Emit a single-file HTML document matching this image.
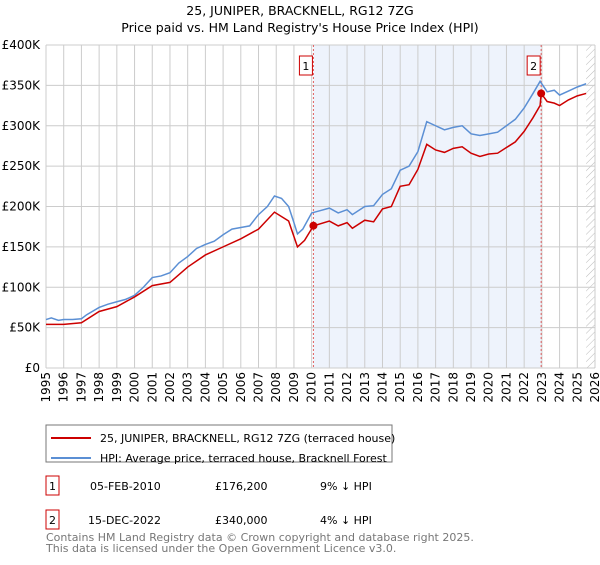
<!DOCTYPE html>
<html><head><meta charset="utf-8"><style>
body{margin:0;background:#fff;font-family:"Liberation Sans","DejaVu Sans",sans-serif;}
svg text{font-family:"DejaVu Sans","Liberation Sans",sans-serif;}
</style></head><body>
<svg id="c" width="600" height="560" xmlns="http://www.w3.org/2000/svg">
<text x="300" y="15" text-anchor="middle" font-size="12.5">25, JUNIPER, BRACKNELL, RG12 7ZG</text>
<text x="300" y="32" text-anchor="middle" font-size="12.5">Price paid vs. HM Land Registry's House Price Index (HPI)</text>
<defs><pattern id="hatch" width="5" height="5" patternUnits="userSpaceOnUse" patternTransform="rotate(45)"><line x1="0" y1="0" x2="0" y2="5" stroke="#bbb" stroke-width="1"/></pattern></defs>
<g id="grid"></g><g id="marks"></g><g id="axes"></g>
<rect x="46" y="425" width="346" height="37" fill="#fff" stroke="#777"/>
<line x1="51" y1="438" x2="91" y2="438" stroke="#cc0000" stroke-width="2"/>
<text x="100" y="442" font-size="11">25, JUNIPER, BRACKNELL, RG12 7ZG (terraced house)</text>
<line x1="51" y1="458" x2="91" y2="458" stroke="#5b8fd4" stroke-width="2"/>
<text x="100" y="462" font-size="11">HPI: Average price, terraced house, Bracknell Forest</text>
<g font-size="11">
<rect x="46" y="476" width="13" height="19" fill="none" stroke="#cc0000"/><text x="52.5" y="490" text-anchor="middle">1</text>
<text x="90" y="490">05-FEB-2010</text><text x="215" y="490">£176,200</text><text x="320" y="490">9% ↓ HPI</text>
<rect x="46" y="510" width="13" height="19" fill="none" stroke="#cc0000"/><text x="52.5" y="524" text-anchor="middle">2</text>
<text x="88" y="524">15-DEC-2022</text><text x="215" y="524">£340,000</text><text x="320" y="524">4% ↓ HPI</text>
</g>
<text x="46" y="541" font-size="11" fill="#777">Contains HM Land Registry data © Crown copyright and database right 2025.</text>
<text x="46" y="552" font-size="11" fill="#777">This data is licensed under the Open Government Licence v3.0.</text>
</svg>
<script>
const hpiYears=[1995,1995.3,1995.7,1996,1996.5,1997,1997.3,1998,1998.5,1999,1999.5,2000,2000.5,2001,2001.5,2002,2002.5,2003,2003.5,2004,2004.5,2005,2005.5,2006,2006.5,2007,2007.5,2007.9,2008.3,2008.7,2009,2009.2,2009.5,2010,2010.5,2011,2011.5,2012,2012.3,2013,2013.5,2014,2014.5,2015,2015.5,2016,2016.5,2017,2017.5,2018,2018.5,2019,2019.5,2020,2020.5,2021,2021.5,2022,2022.5,2022.9,2023.3,2023.7,2024,2024.5,2025,2025.5];
const hpiValues=[60,62,59,60,60,61,66,75,79,82,85,90,100,112,114,118,130,138,148,153,157,165,172,174,176,190,200,213,210,200,180,166,172,192,195,198,192,196,190,200,201,215,222,245,250,268,305,300,295,298,300,290,288,290,292,300,308,322,340,355,342,344,338,343,348,352];
const priceYears=[1995,1996,1997,1998,1999,2000,2001,2002,2003,2004,2005,2006,2007,2007.9,2008.7,2009.2,2009.6,2010.1,2011,2011.5,2012,2012.3,2013,2013.5,2014,2014.5,2015,2015.5,2016,2016.5,2017,2017.5,2018,2018.5,2019,2019.5,2020,2020.5,2021,2021.5,2022,2022.5,2022.9,2022.96,2023.3,2023.7,2024,2024.5,2025,2025.5];
const priceValues=[54,54,56,70,76,88,102,106,125,140,150,160,172,193,182,150,158,176,182,176,180,173,183,181,197,200,225,227,246,277,270,267,272,274,266,262,265,266,273,280,293,310,325,340,330,328,325,332,337,340];
const saleYears=[2010.1,2022.96];
const saleValues=[176.2,340];
const saleLabels=["1","2"];
const yTicks=[0,50,100,150,200,250,300,350,400];
const yTickLabels=["£0","£50K","£100K","£150K","£200K","£250K","£300K","£350K","£400K"];
const xTicks=[1995,1996,1997,1998,1999,2000,2001,2002,2003,2004,2005,2006,2007,2008,2009,2010,2011,2012,2013,2014,2015,2016,2017,2018,2019,2020,2021,2022,2023,2024,2025,2026];

const X0=46,X1=595,Y0=368,Y1=45;
const sx=y=>X0+(y-1995)/(2026-1995)*(X1-X0);
const sy=v=>Y0-v/400*(Y0-Y1);
const NS="http://www.w3.org/2000/svg";
function mk(t,a,p){const e=document.createElementNS(NS,t);for(const k in a)e.setAttribute(k,a[k]);p.appendChild(e);return e;}
const grid=document.getElementById('grid'),marks=document.getElementById('marks'),axes=document.getElementById('axes');
let r=mk('rect',{x:sx(saleYears[0]),y:Y1,width:sx(saleYears[1])-sx(saleYears[0]),height:Y0-Y1,fill:'#eef3fc'},grid);


r=mk('rect',{x:sx(2025.5),y:Y1,width:X1-sx(2025.5),height:Y0-Y1,fill:'url(#hatch)'},grid);


yTicks.forEach((v,i)=>{
  const l=mk('line',{x1:X0,x2:X1,y1:sy(v),y2:sy(v),stroke:'#ccc'},grid);
  
  
  const t=mk('text',{x:X0-6,y:sy(v)+4,'text-anchor':'end','font-size':'12'},axes);
  t.textContent=yTickLabels[i];
  
  
});
xTicks.forEach(y=>{
  const l=mk('line',{x1:sx(y),x2:sx(y),y1:Y1,y2:Y0,stroke:'#ccc'},grid);
  
  
  const t=mk('text',{x:0,y:0,'text-anchor':'end','font-size':'12',transform:`translate(${sx(y)+4},${Y0+4}) rotate(-90)`},axes);
  t.textContent=y;
  
  
});
saleYears.forEach((y,i)=>{
  const l=mk('line',{x1:sx(y),x2:sx(y),y1:Y1,y2:Y0,stroke:'#e06060','stroke-dasharray':'2,2'},grid);
  
  
  const b=mk('rect',{x:sx(y)-14,y:56,width:13,height:19,fill:'#fff',stroke:'#cc0000'},axes);
  
  
  const t=mk('text',{x:sx(y)-7.5,y:70,'text-anchor':'middle','font-size':'11'},axes);
  t.textContent=saleLabels[i];
  
  
});
let p=mk('polyline',{points:hpiYears.map((y,i)=>sx(y)+','+sy(hpiValues[i])).join(' '),fill:'none',stroke:'#5b8fd4','stroke-width':1.5},marks);


p=mk('polyline',{points:priceYears.map((y,i)=>sx(y)+','+sy(priceValues[i])).join(' '),fill:'none',stroke:'#cc0000','stroke-width':1.5},marks);


saleYears.forEach((y,i)=>{
  const c=mk('circle',{cx:sx(y),cy:sy(saleValues[i]),r:4,fill:'#cc0000'},marks);
  
  
});
</script>
</body></html>
